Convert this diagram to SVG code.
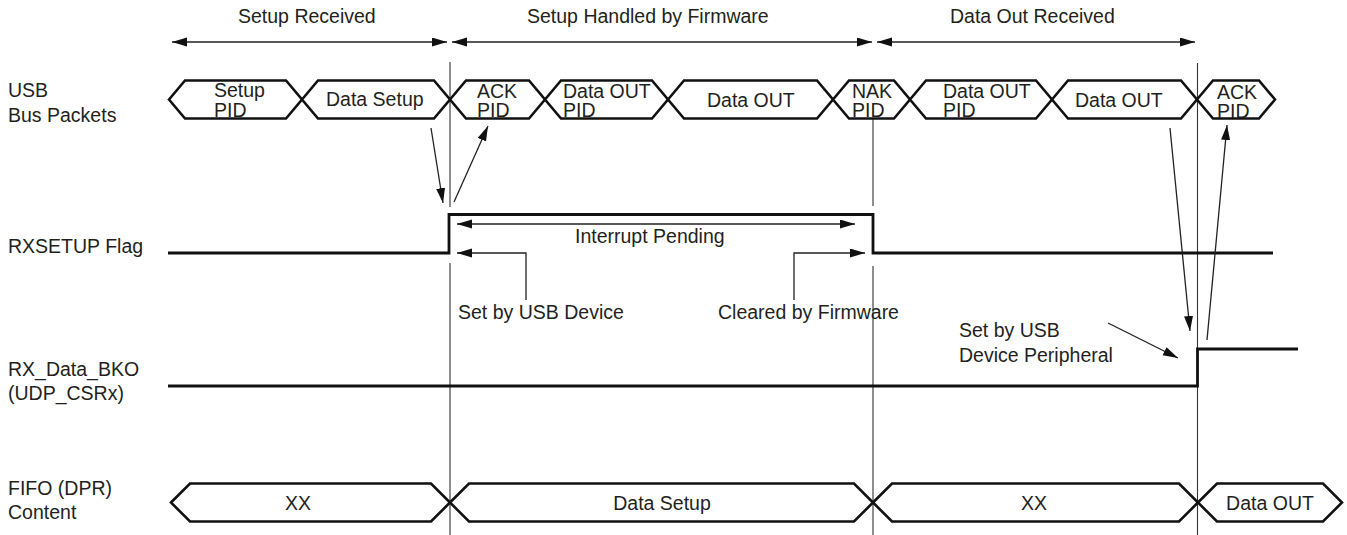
<svg xmlns="http://www.w3.org/2000/svg" width="1347" height="535" viewBox="0 0 1347 535">
<defs>
<style>
.t{font-family:"Liberation Sans",Arial,sans-serif;font-size:19.5px;fill:#231f20}
.c{text-anchor:middle}
.pk{fill:#fff;stroke:#111;stroke-width:2.6;stroke-linejoin:miter}
.sig{fill:none;stroke:#111;stroke-width:2.8}
.vl{fill:none;stroke:#333;stroke-width:1.1}
.ar{fill:none;stroke:#222;stroke-width:1.3}
</style>
<marker id="ah" markerUnits="userSpaceOnUse" markerWidth="16" markerHeight="10" refX="15" refY="4.5" orient="auto-start-reverse">
<path d="M0,0 L15,4.5 L0,9 Z" fill="#111"/>
</marker>
</defs>
<rect width="1347" height="535" fill="#fff"/>

<g id="phase-labels">
<text class="t" x="238" y="23">Setup Received</text>
<text class="t" x="527" y="23">Setup Handled by Firmware</text>
<text class="t" x="950" y="23">Data Out Received</text>
</g>

<g id="row-labels">
<text class="t" x="8" y="97">USB</text>
<text class="t" x="8" y="122">Bus Packets</text>
<text class="t" x="8" y="253">RXSETUP Flag</text>
<text class="t" x="8" y="376">RX_Data_BKO</text>
<text class="t" x="8" y="400">(UDP_CSRx)</text>
<text class="t" x="8" y="495">FIFO (DPR)</text>
<text class="t" x="8" y="519">Content</text>
</g>

<g id="time-markers">
<path class="vl" d="M450,62 V207 M450,263 V535"/>
<path class="vl" d="M873,117 V206 M873,266 V535"/>
<path class="vl" d="M1197.5,63 V535"/>
</g>

<g id="usb-packets">
<polygon class="pk" points="169,99.5 185,80.5 286,80.5 302,99.5 286,118.5 185,118.5"/>
<polygon class="pk" points="302,99.5 318,80.5 434,80.5 450,99.5 434,118.5 318,118.5"/>
<polygon class="pk" points="450,99.5 466,80.5 529,80.5 545,99.5 529,118.5 466,118.5"/>
<polygon class="pk" points="545,99.5 561,80.5 652,80.5 668,99.5 652,118.5 561,118.5"/>
<polygon class="pk" points="668,99.5 684,80.5 817,80.5 833,99.5 817,118.5 684,118.5"/>
<polygon class="pk" points="833,99.5 849,80.5 894,80.5 910,99.5 894,118.5 849,118.5"/>
<polygon class="pk" points="910,99.5 926,80.5 1036,80.5 1052,99.5 1036,118.5 926,118.5"/>
<polygon class="pk" points="1052,99.5 1068,80.5 1181,80.5 1197,99.5 1181,118.5 1068,118.5"/>
<polygon class="pk" points="1197,99.5 1213,80.5 1259,80.5 1275,99.5 1259,118.5 1213,118.5"/>
<text class="t" x="214" y="97">Setup</text><text class="t" x="214" y="117">PID</text>
<text class="t" x="326" y="106">Data Setup</text>
<text class="t" x="477" y="98">ACK</text><text class="t" x="477" y="117">PID</text>
<text class="t" x="563" y="98">Data OUT</text><text class="t" x="563" y="117">PID</text>
<text class="t" x="707" y="107">Data OUT</text>
<text class="t" x="852" y="98">NAK</text><text class="t" x="852" y="117">PID</text>
<text class="t" x="943" y="98">Data OUT</text><text class="t" x="943" y="117">PID</text>
<text class="t" x="1075" y="107">Data OUT</text>
<text class="t" x="1217" y="99">ACK</text><text class="t" x="1217" y="118">PID</text>
</g>

<g id="rxsetup-flag">
<path class="sig" d="M168,253 H449 V214.5 H873 V253 H1273"/>
</g>

<g id="rx-data-bko">
<path class="sig" d="M168,386 H1197.5 V349 H1298"/>
</g>

<g id="fifo-content">
<polygon class="pk" points="171,502.5 190,483.5 431,483.5 450,502.5 431,521.5 190,521.5"/>
<polygon class="pk" points="450,502.5 469,483.5 854,483.5 873,502.5 854,521.5 469,521.5"/>
<polygon class="pk" points="873,502.5 892,483.5 1179,483.5 1198,502.5 1179,521.5 892,521.5"/>
<polygon class="pk" points="1198,502.5 1217,483.5 1323,483.5 1342,502.5 1323,521.5 1217,521.5"/>
<text class="t c" x="298" y="509.5">XX</text>
<text class="t c" x="662" y="509.5">Data Setup</text>
<text class="t c" x="1034" y="509.5">XX</text>
<text class="t c" x="1270" y="509.5">Data OUT</text>
</g>

<g id="annotations">
<text class="t" x="575" y="243">Interrupt Pending</text>
<text class="t" x="458" y="319">Set by USB Device</text>
<text class="t" x="718" y="319">Cleared by Firmware</text>
<text class="t" x="959" y="337">Set by USB</text>
<text class="t" x="959" y="362">Device Peripheral</text>
</g>

<g id="connectors">
<line class="ar" x1="172" y1="42" x2="447" y2="42" marker-start="url(#ah)" marker-end="url(#ah)"/>
<line class="ar" x1="452" y1="42" x2="872" y2="42" marker-start="url(#ah)" marker-end="url(#ah)"/>
<line class="ar" x1="877" y1="42" x2="1195" y2="42" marker-start="url(#ah)" marker-end="url(#ah)"/>
<line class="ar" x1="457" y1="224" x2="855" y2="224" marker-start="url(#ah)" marker-end="url(#ah)"/>
<path class="ar" d="M526,300 V253 H457" marker-end="url(#ah)"/>
<path class="ar" d="M794,300 V253 H865" marker-end="url(#ah)"/>
<line class="ar" x1="431" y1="128" x2="443" y2="203" marker-end="url(#ah)"/>
<line class="ar" x1="454" y1="202" x2="488" y2="126" marker-end="url(#ah)"/>
<line class="ar" x1="1170" y1="128" x2="1190" y2="331" marker-end="url(#ah)"/>
<line class="ar" x1="1207" y1="340" x2="1227" y2="125" marker-end="url(#ah)"/>
<line class="ar" x1="1108" y1="323" x2="1178" y2="358" marker-end="url(#ah)"/>
</g>
</svg>
